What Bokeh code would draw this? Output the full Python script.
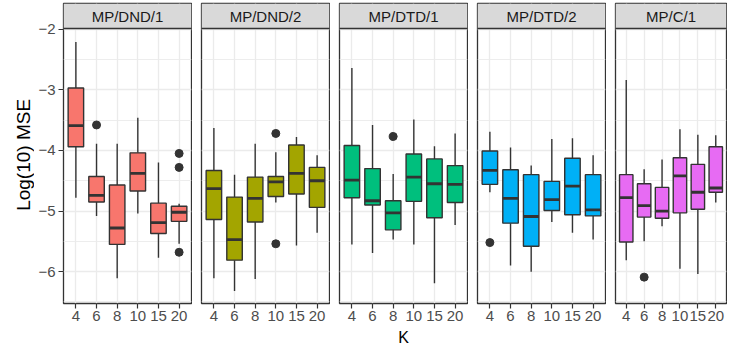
import math
from bokeh.plotting import figure
from bokeh.models import Range1d, FixedTicker, ColumnDataSource, CustomJSTickFormatter, Span
from bokeh.layouts import row, column
from bokeh.embed import file_html
from bokeh.resources import INLINE
from bokeh.core.properties import value

# ---------------- data ----------------
PANELS = ["MP/DND/1", "MP/DND/2", "MP/DTD/1", "MP/DTD/2", "MP/C/1"]
K_LABELS = ["4", "6", "8", "10", "15", "20"]
FILLS = ["#F8766D", "#A3A500", "#00BF7D", "#00B0F6", "#E76BF3"]

WHISKER_LOW = [
    [-4.78, -5.08, -6.11, -5.04, -5.77, -5.54],
    [-6.11, -6.32, -6.12, -4.86, -5.57, -5.36],
    [-5.55, -5.69, -5.47, -5.55, -6.19, -5.23],
    [-4.69, -5.90, -6.00, -5.18, -5.36, -5.47],
    [-5.81, -5.50, -5.25, -5.95, -6.04, -4.86],
]
Q1 = [
    [-3.94, -4.85, -5.55, -4.67, -5.37, -5.17],
    [-5.14, -5.81, -5.18, -4.76, -4.72, -4.94],
    [-4.78, -4.90, -5.31, -4.84, -5.11, -4.86],
    [-4.56, -5.20, -5.58, -4.99, -5.06, -5.08],
    [-5.51, -5.10, -5.12, -5.03, -4.97, -4.69],
]
MEDIAN = [
    [-3.59, -4.74, -5.28, -4.38, -5.19, -5.02],
    [-4.63, -5.47, -4.79, -4.52, -4.38, -4.50],
    [-4.49, -4.83, -5.03, -4.44, -4.55, -4.56],
    [-4.33, -4.79, -5.09, -4.81, -4.59, -4.98],
    [-4.78, -4.91, -5.00, -4.42, -4.69, -4.62],
]
Q3 = [
    [-2.97, -4.43, -4.57, -4.04, -4.87, -4.92],
    [-4.33, -4.77, -4.44, -4.43, -3.91, -4.28],
    [-3.92, -4.30, -4.83, -4.06, -4.14, -4.25],
    [-4.01, -4.32, -4.40, -4.51, -4.13, -4.40],
    [-4.40, -4.55, -4.61, -4.12, -4.23, -3.94],
]
WHISKER_HIGH = [
    [-2.21, -3.89, -3.89, -3.46, -4.20, -4.88],
    [-3.63, -4.40, -3.89, -4.03, -3.78, -4.08],
    [-2.64, -3.58, -4.39, -3.49, -3.93, -3.72],
    [-3.69, -3.95, -4.25, -3.81, -3.80, -4.08],
    [-2.84, -4.31, -4.15, -3.65, -3.74, -3.75],
]
OUTLIER_PANEL = [0, 0, 0, 0, 1, 1, 2, 3, 4]
OUTLIER_K = ["6", "20", "20", "20", "10", "10", "8", "4", "6"]
OUTLIER_VALUE = [-3.58, -4.05, -4.28, -5.68, -3.72, -5.54, -3.77, -5.52, -6.09]

Y_TICKS = [-6, -5, -4, -3, -2]
Y_MINOR = [-6.5, -5.5, -4.5, -3.5, -2.5]

X_TITLE = "K"
Y_TITLE = "Log(10) MSE"

# ---------------- style / geometry ----------------
FONT = "Liberation Sans"
DARK = "#333333"
GRID = "#EBEBEB"
Y_LO, Y_HI = -6.525, -1.989

X_POS = list(range(1, len(K_LABELS) + 1))      # discrete positions of the categories
X_LO, X_HI = 0.4, len(K_LABELS) + 0.6

TOP_B = 3          # px above strip
STRIP_PX = 25      # strip height
PANEL_PX = 275     # panel height
BOTTOM_B = 25      # x tick area
FIG_H = TOP_B + STRIP_PX + PANEL_PX + BOTTOM_B
K_H = 18
YLAB_W = 34
FRAME_W = 128
GAP = 10
FIRST_FRAME_X = 63
TOTAL_W = 727
STRIP_UNITS = STRIP_PX * (Y_HI - Y_LO) / PANEL_PX
Y_TOP = Y_HI + STRIP_UNITS

ylab = figure(width=YLAB_W, height=FIG_H, x_range=Range1d(0, YLAB_W), y_range=Range1d(0, FIG_H),
              x_axis_location=None, y_axis_location=None, toolbar_location=None,
              output_backend="svg", min_border=0)
ylab.grid.visible = False
ylab.outline_line_color = None
ylab.text(x=[23], y=[BOTTOM_B + PANEL_PX / 2], text=[Y_TITLE], angle=math.pi / 2,
          text_align="center", text_baseline="middle", text_font=value(FONT),
          text_font_size="19px", text_color="black")

figs = []
x_cursor = YLAB_W
for i, name in enumerate(PANELS):
    left = FIRST_FRAME_X - YLAB_W if i == 0 else GAP - 1
    fw = FRAME_W if i < len(PANELS) - 1 else TOTAL_W - x_cursor - left - 1
    width = left + fw + 1
    x_cursor += width

    p = figure(width=width, height=FIG_H,
               x_range=Range1d(X_LO, X_HI), y_range=Range1d(Y_LO, Y_TOP),
               y_axis_location="left" if i == 0 else None,
               toolbar_location=None, output_backend="svg",
               min_border_left=left, min_border_right=1, min_border_top=TOP_B,
               min_border_bottom=BOTTOM_B)
    p.background_fill_color = "white"
    p.border_fill_color = "white"
    p.outline_line_color = DARK
    p.outline_line_width = 1.3

    yticker = FixedTicker(ticks=Y_TICKS, minor_ticks=Y_MINOR)
    xticker = FixedTicker(ticks=X_POS, minor_ticks=[])
    p.ygrid.ticker = yticker
    p.ygrid.grid_line_color = GRID
    p.ygrid.grid_line_width = 1.3
    p.ygrid.minor_grid_line_color = GRID
    p.ygrid.minor_grid_line_width = 0.9
    p.xgrid.ticker = xticker
    p.xgrid.grid_line_color = GRID
    p.xgrid.grid_line_width = 1.3

    src = ColumnDataSource(dict(x=X_POS, lo=WHISKER_LOW[i], q1=Q1[i], med=MEDIAN[i],
                                q3=Q3[i], hi=WHISKER_HIGH[i]))
    p.segment(x0="x", y0="q3", x1="x", y1="hi", source=src, line_color=DARK, line_width=1.4)
    p.segment(x0="x", y0="q1", x1="x", y1="lo", source=src, line_color=DARK, line_width=1.4)
    p.vbar(x="x", width=0.75, bottom="q1", top="q3", source=src, fill_color=FILLS[i],
           line_color=DARK, line_width=1.4)
    p.rect(x="x", y="med", width=0.75, height=2.8, height_units="screen", source=src,
           fill_color=DARK, line_color=None)

    ox = [X_POS[K_LABELS.index(OUTLIER_K[j])] for j in range(len(OUTLIER_K)) if OUTLIER_PANEL[j] == i]
    ov = [OUTLIER_VALUE[j] for j in range(len(OUTLIER_K)) if OUTLIER_PANEL[j] == i]
    if ox:
        p.scatter(x=ox, y=ov, size=8, color=DARK)

    # facet strip
    p.quad(left=[X_LO], right=[X_HI], bottom=[Y_HI], top=[Y_TOP], fill_color="#D9D9D9",
           line_color=None)
    p.add_layout(Span(location=Y_HI, dimension="width", line_color=DARK, line_width=1.3))
    p.text(x=[(X_LO + X_HI) / 2], y=[(Y_HI + Y_TOP) / 2], text=[name], text_align="center",
           text_baseline="middle", text_font=value(FONT), text_font_size="15px",
           text_color="#1A1A1A")

    xa = p.xaxis[0]
    xa.ticker = xticker
    xa.major_label_overrides = {pos: lab for pos, lab in zip(X_POS, K_LABELS)}
    xa.axis_line_color = None
    xa.major_tick_out = 5
    xa.major_tick_in = 0
    xa.minor_tick_out = 0
    xa.minor_tick_in = 0
    xa.major_tick_line_color = DARK
    xa.major_tick_line_width = 1.2
    xa.major_label_text_font = FONT
    xa.major_label_text_font_size = "15px"
    xa.major_label_text_color = "#4D4D4D"
    xa.major_label_standoff = 2

    if i == 0:
        ya = p.yaxis[0]
        ya.ticker = yticker
        ya.formatter = CustomJSTickFormatter(code="return String(tick).replace('-', '\u2212');")
        ya.axis_line_color = None
        ya.major_tick_out = 5
        ya.major_tick_in = 0
        ya.minor_tick_out = 0
        ya.minor_tick_in = 0
        ya.major_tick_line_color = DARK
        ya.major_tick_line_width = 1.2
        ya.major_label_text_font = FONT
        ya.major_label_text_font_size = "15px"
        ya.major_label_text_color = "#4D4D4D"
        ya.major_label_standoff = 3

    figs.append(p)

k_center = FIRST_FRAME_X + (len(PANELS) * FRAME_W + (len(PANELS) - 1) * GAP) / 2
kfig = figure(width=TOTAL_W, height=K_H, x_range=Range1d(0, TOTAL_W), y_range=Range1d(0, K_H),
              x_axis_location=None, y_axis_location=None, toolbar_location=None,
              output_backend="svg", min_border=0)
kfig.grid.visible = False
kfig.outline_line_color = None
kfig.background_fill_color = "white"
kfig.border_fill_color = "white"
kfig.text(x=[k_center], y=[K_H / 2], text=[X_TITLE], text_align="center",
          text_baseline="middle", text_font=value(FONT), text_font_size="16px",
          text_color="black")

layout = column(row(ylab, *figs), kfig)
open("out.html", "w").write(file_html(layout, INLINE))
